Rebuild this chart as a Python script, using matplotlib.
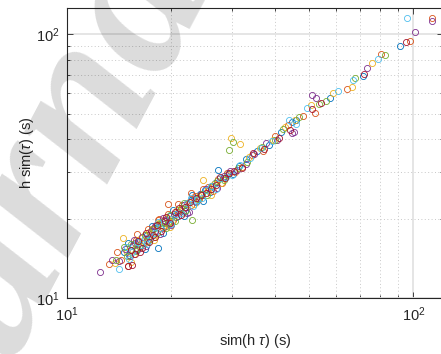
import numpy as np
import matplotlib
matplotlib.use("Agg")
import matplotlib.pyplot as plt
from matplotlib.ticker import LogLocator, NullFormatter

plt.rcParams['font.family'] = ['Liberation Sans', 'DejaVu Sans']
plt.rcParams['mathtext.fontset'] = 'custom'
plt.rcParams['mathtext.rm'] = 'Liberation Sans'
plt.rcParams['mathtext.it'] = 'Liberation Sans:italic'
plt.rcParams['mathtext.default'] = 'regular'

# data, one pair of lists per colour (MATLAB default order)
blue_x = [14.6, 15.1, 15.5, 15.9, 16.2, 16.6, 17.0, 17.4, 17.9, 18.3, 18.7, 19.3, 19.9, 20.6, 21.2, 22.0, 22.8, 23.6,
          24.3, 25.1, 25.9, 26.7, 27.4, 28.2, 29.1, 30.2, 31.4, 33.0, 35.5, 38.3, 41.5, 44.8, 46.0, 57.5, 71.7, 91.5,
          15.0, 16.8, 17.6, 19.0, 20.2, 21.8, 23.0, 24.8]
blue_y = [15.0, 14.6, 15.9, 15.4, 16.5, 16.1, 17.3, 16.8, 18.4, 15.5, 18.9, 18.7, 20.5, 20.2, 21.6, 21.4, 23.5, 23.1,
          24.9, 25.6, 25.2, 27.3, 30.5, 28.4, 29.6, 29.5, 31.8, 33.6, 36.1, 37.9, 42.6, 46.4, 47.3, 57.1, 69.3, 90.1,
          16.2, 15.4, 18.8, 17.7, 21.5, 20.4, 24.6, 23.4]
orange_x = [13.2, 14.3, 15.0, 15.4, 15.8, 16.3, 16.8, 17.1, 17.6, 18.1, 18.5, 19.0, 19.6, 20.3, 20.9, 21.5, 22.2, 22.9,
            23.4, 24.0, 24.8, 25.6, 26.4, 27.3, 28.0, 29.0, 30.6, 32.1, 34.2, 36.8, 40.0, 43.5, 48.0, 52.0, 64.2, 80.5,
            97.8, 113.0, 14.0, 16.0, 17.2, 19.6, 22.9, 18.3, 21.0]
orange_y = [13.5, 13.9, 13.2, 15.8, 16.6, 15.6, 17.4, 16.5, 18.3, 18.9, 19.9, 18.4, 20.8, 19.8, 21.1, 22.6, 23.0, 22.5,
            24.4, 23.7, 25.9, 26.3, 25.4, 28.3, 27.3, 29.9, 30.0, 31.4, 34.9, 36.2, 41.3, 45.2, 49.0, 50.5, 62.0, 84.5,
            94.1, 115.3, 15.0, 17.5, 18.2, 22.7, 25.0, 19.7, 22.8]
yellow_x = [13.8, 14.5, 14.9, 15.6, 16.1, 16.7, 17.3, 17.8, 18.4, 18.9, 19.5, 20.1, 20.8, 21.6, 22.5, 23.3, 24.1, 24.7,
            25.5, 26.6, 27.8, 29.0, 29.7, 31.7, 33.6, 36.0, 39.3, 42.5, 45.5, 50.5, 58.6, 66.3, 76.0,
            15.3, 16.4, 17.9, 19.8, 20.4, 26.0]
yellow_y = [13.6, 16.9, 14.9, 14.7, 16.6, 16.2, 17.8, 17.1, 19.2, 18.8, 20.1, 19.4, 21.5, 21.0, 23.1, 22.7, 24.3, 27.9,
            25.7, 27.1, 27.4, 29.2, 40.3, 38.3, 34.3, 37.0, 39.9, 44.4, 47.5, 54.0, 60.0, 63.1, 77.5,
            13.7, 16.9, 16.6, 18.6, 20.8, 24.6]
purple_x = [12.5, 13.5, 14.7, 15.2, 15.7, 16.0, 16.5, 16.9, 17.5, 18.0, 18.6, 19.1, 19.7, 20.4, 21.0, 21.8, 22.6, 23.5,
            24.4, 25.3, 26.2, 27.1, 28.5, 29.6, 31.0, 32.8, 34.8, 37.5, 40.5, 44.6, 45.3, 50.9, 52.4, 73.3, 101.0, 113.0,
            14.2, 15.6, 17.3, 18.9, 20.0, 22.2]
purple_y = [12.6, 13.9, 15.4, 14.4, 16.2, 15.2, 17.0, 15.7, 17.9, 18.7, 17.5, 19.8, 19.1, 20.9, 20.4, 22.5, 21.2, 23.3,
            24.9, 25.9, 26.6, 26.2, 28.9, 30.2, 30.5, 32.2, 35.1, 38.7, 39.8, 42.3, 42.6, 59.0, 57.4, 74.5, 101.8, 112.0,
            13.8, 16.6, 17.1, 20.1, 18.9, 21.0]
green_x = [13.9, 14.9, 15.3, 15.8, 16.3, 16.8, 17.2, 17.7, 18.2, 18.8, 19.4, 19.9, 20.5, 21.3, 22.1, 23.0, 23.9, 24.6,
           25.4, 26.2, 27.2, 28.4, 29.4, 30.1, 31.2, 33.2, 36.5, 39.8, 42.0, 46.8, 53.5, 55.8, 68.0, 83.0,
           14.6, 16.0, 18.5, 19.6, 21.8]
green_y = [13.9, 14.4, 16.0, 15.1, 15.9, 17.3, 16.4, 18.2, 17.6, 19.4, 18.5, 20.7, 19.6, 21.9, 21.5, 19.7, 23.7, 24.9,
           24.6, 26.7, 27.8, 28.0, 36.3, 39.2, 31.0, 32.9, 37.5, 39.8, 43.9, 48.6, 54.5, 55.8, 68.5, 83.7,
           15.6, 15.5, 19.0, 19.2, 22.9]
cyan_x = [14.2, 14.9, 15.4, 15.9, 16.4, 16.8, 17.4, 18.0, 18.6, 19.2, 19.8, 20.6, 21.4, 22.3, 23.1, 23.8, 24.5, 25.3,
          26.0, 26.9, 27.7, 28.8, 30.0, 31.6, 33.8, 36.3, 39.0, 43.7, 45.8, 49.2, 60.8, 67.1, 79.3, 96.1,
          15.1, 17.0, 18.3, 20.0, 22.8]
cyan_y = [12.85, 15.6, 15.0, 16.3, 15.9, 16.9, 17.0, 17.7, 18.4, 19.6, 20.0, 20.9, 21.0, 22.9, 22.4, 23.5, 24.0, 25.7,
          26.5, 26.0, 28.4, 28.7, 29.2, 32.0, 34.0, 37.1, 39.4, 47.4, 45.5, 52.7, 60.8, 67.3, 80.6, 115.3,
          14.1, 16.0, 19.4, 19.1, 23.9]
red_x = [15.0, 15.3, 15.7, 16.1, 16.5, 16.9, 17.3, 17.7, 18.2, 18.7, 19.2, 19.8, 20.5, 21.1, 21.9, 22.7, 23.6, 24.4,
         25.2, 26.1, 27.0, 27.6, 28.6, 29.4, 30.4, 32.0, 34.5, 37.0, 41.0, 44.0, 51.0, 54.0, 72.0, 95.0,
         15.4, 16.3, 18.0, 19.4, 21.4]
red_y = [13.2, 15.2, 14.7, 16.4, 15.5, 17.6, 16.3, 17.3, 18.9, 17.9, 19.6, 19.3, 21.2, 21.9, 22.1, 23.2, 23.9, 24.5,
         25.1, 25.9, 26.9, 28.7, 28.5, 29.8, 30.4, 31.2, 35.6, 36.8, 40.6, 43.3, 52.3, 55.0, 70.4, 93.5,
         13.3, 15.0, 17.0, 20.3, 20.6]

series = [(blue_x, blue_y, '#0072BD'), (orange_x, orange_y, '#D95319'), (yellow_x, yellow_y, '#EDB120'),
          (purple_x, purple_y, '#7E2F8E'), (green_x, green_y, '#77AC30'), (cyan_x, cyan_y, '#4DBEEE'),
          (red_x, red_y, '#A2142F')]

W, H = 441, 354
fig = plt.figure(figsize=(W / 100, H / 100), dpi=100)
left, bottom, right, top = 66.7, 298.0, 443.0, 8.3
ax = fig.add_axes([left / W, 1 - bottom / H, (right - left) / W, (bottom - top) / H])

for xs, ys, c in series:
    ax.plot(xs, ys, 'o', mfc='none', mec=c, ms=4.4, mew=0.6, zorder=3)

ax.set_xscale('log')
ax.set_yscale('log')
ax.set_xlim(10, 10 ** (1 + (right - left) / 346.7))
ax.set_ylim(10, 10 ** (1 + (bottom - top) / 263.7))

ax.xaxis.set_minor_locator(LogLocator(subs=np.arange(2, 10)))
ax.yaxis.set_minor_locator(LogLocator(subs=np.arange(2, 10)))
ax.xaxis.set_minor_formatter(NullFormatter())
ax.yaxis.set_minor_formatter(NullFormatter())

ax.grid(True, which='major', color='#e3e3e3', lw=1.3, ls='-', zorder=0)
ax.grid(True, which='minor', color='#c8c8c8', lw=0.7, ls=(0, (1, 2.5)), zorder=0)
ax.set_axisbelow(True)

ax.tick_params(which='both', direction='in', top=True, right=True, colors='#262626', labelsize=10.5, width=0.6)
ax.tick_params(which='major', length=4, pad=5)
ax.tick_params(which='minor', length=2.2)
for s in ax.spines.values():
    s.set_color('#262626')
    s.set_linewidth(0.8)

ax.set_xlabel(r'sim(h $\mathit{\tau}$) (s)', fontsize=10.5, color='#262626', labelpad=6)
ax.set_ylabel(r'h sim($\mathit{\tau}$) (s)', fontsize=10.5, color='#262626', labelpad=0)

# translucent grey watermark over the figure
fig.text(30 / W, 1 - 222 / H, 'Journal', fontsize=155, family='Liberation Serif', style='italic', weight='bold',
         color=(0, 0, 0, 0.14), rotation=62, ha='center', va='center', rotation_mode='anchor', zorder=10)

fig.savefig('out.png', dpi=100)
